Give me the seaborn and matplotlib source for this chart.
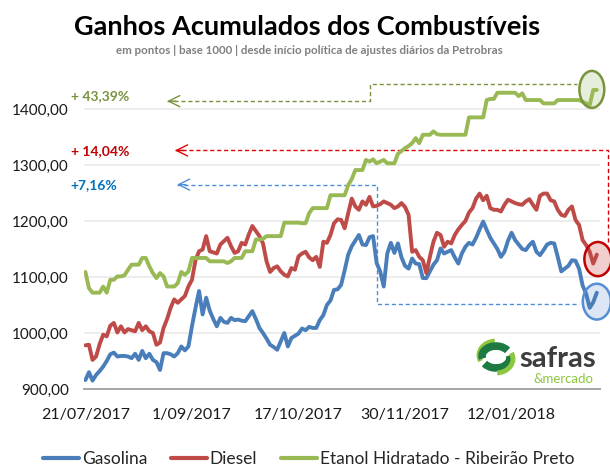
import numpy as np
import pandas as pd
import matplotlib
matplotlib.use("Agg")
import matplotlib.pyplot as plt
from matplotlib.patches import Ellipse, Arc
import seaborn as sns

# dados (pontos, base 1000), um valor por pregão desde 21/07/2017
gasolina = [
    916, 930, 915, 925, 932, 940, 950, 962, 965, 958,
    959, 959, 958, 955, 963, 952, 968, 955, 963, 952,
    948, 934, 964, 964, 962, 958, 964, 976, 969, 976,
    1012, 1045, 1075, 1033, 1063, 1040, 1025, 1012, 1027, 1020,
    1018, 1027, 1023, 1024, 1022, 1021, 1030, 1039, 1025, 1009,
    1000, 990, 979, 975, 970, 985, 1000, 976, 991, 995,
    999, 1008, 1005, 1011, 1009, 1009, 1023, 1032, 1050, 1058,
    1077, 1078, 1086, 1112, 1140, 1155, 1165, 1175, 1158, 1157,
    1171, 1173, 1125, 1110, 1083, 1142, 1161, 1143, 1160, 1135,
    1120, 1115, 1133, 1124, 1123, 1098, 1098, 1110, 1122, 1130,
    1151, 1142, 1145, 1148, 1135, 1124, 1142, 1154, 1161, 1158,
    1170, 1185, 1199, 1184, 1170, 1160, 1150, 1136, 1145, 1165,
    1179, 1166, 1158, 1150, 1148, 1157, 1163, 1145, 1139, 1148,
    1158, 1161, 1160, 1136, 1110, 1115, 1120, 1130, 1129, 1115,
    1085, 1070, 1045, 1055, 1072,
]
diesel = [
    978, 979, 952, 958, 980, 997, 994, 1013, 1018, 1001,
    1012, 1001, 1007, 1005, 1003, 1018, 1005, 1012, 1003, 1000,
    979, 983, 1009, 1025, 1045, 1060, 1054, 1060, 1066, 1083,
    1095, 1130, 1146, 1149, 1173, 1146, 1144, 1142, 1158, 1164,
    1170, 1155, 1143, 1146, 1161, 1158, 1176, 1191, 1182, 1173,
    1160, 1128, 1109, 1116, 1119, 1110, 1104, 1101, 1116, 1113,
    1137, 1142, 1145, 1135, 1130, 1136, 1118, 1163, 1161, 1175,
    1196, 1203, 1202, 1187, 1214, 1240, 1226, 1220, 1235, 1229,
    1243, 1226, 1227, 1230, 1235, 1232, 1229, 1223, 1226, 1232,
    1225, 1211, 1145, 1148, 1136, 1130, 1107, 1136, 1163, 1179,
    1175, 1154, 1163, 1160, 1175, 1185, 1193, 1200, 1215, 1223,
    1240, 1249, 1237, 1245, 1223, 1220, 1220, 1217, 1229, 1238,
    1235, 1232, 1230, 1229, 1235, 1239, 1229, 1220, 1245, 1249,
    1249, 1237, 1235, 1220, 1211, 1209, 1220, 1226, 1202, 1193,
    1166, 1157, 1145, 1124, 1140,
]
etanol = [
    1109, 1080, 1072, 1072, 1072, 1083, 1072, 1095, 1095, 1101,
    1101, 1103, 1113, 1122, 1122, 1122, 1134, 1134, 1119, 1107,
    1098, 1107, 1101, 1083, 1083, 1083, 1089, 1109, 1104, 1110,
    1134, 1134, 1134, 1134, 1134, 1128, 1128, 1128, 1128, 1128,
    1125, 1128, 1134, 1134, 1134, 1146, 1146, 1146, 1167, 1167,
    1168, 1173, 1173, 1173, 1173, 1173, 1197, 1197, 1197, 1197,
    1197, 1196, 1196, 1214, 1223, 1223, 1223, 1223, 1223, 1246,
    1246, 1246, 1246, 1246, 1264, 1275, 1291, 1291, 1291, 1309,
    1306, 1310, 1303, 1306, 1309, 1303, 1303, 1303, 1320, 1325,
    1330, 1334, 1339, 1348, 1339, 1354, 1354, 1354, 1360, 1355,
    1354, 1354, 1354, 1354, 1354, 1354, 1354, 1354, 1385, 1385,
    1385, 1385, 1385, 1416, 1418, 1418, 1429, 1429, 1429, 1429,
    1429, 1429, 1423, 1428, 1416, 1416, 1416, 1416, 1416, 1410,
    1410, 1410, 1410, 1416, 1416, 1416, 1416, 1416, 1416, 1416,
    1413, 1410, 1407, 1434, 1434,
]
serie_nomes = ["Gasolina", "Diesel", "Etanol Hidratado - Ribeirão Preto"]
tick_idx = [0, 30, 60, 90, 120]
tick_datas = ["21/07/2017", "1/09/2017", "17/10/2017", "30/11/2017", "12/01/2018"]
ganhos = ["+7,16%", "+ 14,04%", "+ 43,39%"]

cores = ["#4A7EBB", "#BE4B48", "#98B954"]
cores_txt = ["#0070C0", "#C00000", "#77933C"]

df = pd.concat([
    pd.DataFrame({"idx": np.arange(len(v)), "valor": v, "serie": nome})
    for nome, v in zip(serie_nomes, [gasolina, diesel, etanol])
])

sns.set_theme(style="white")
plt.rcParams["font.family"] = ["Lato", "DejaVu Sans"]

fig = plt.figure(figsize=(6.1, 4.71), dpi=100)
ax = fig.add_axes([84 / 610, 1 - 389 / 471, 516 / 610, 308 / 471])

sns.lineplot(data=df, x="idx", y="valor", hue="serie", hue_order=serie_nomes,
             palette=cores, linewidth=2.8, ax=ax, legend=True, zorder=3)

ax.set_xlim(-0.4, 144.9)
ax.set_ylim(900, 1450)
ax.set_yticks([900, 1000, 1100, 1200, 1300, 1400])
ax.set_yticklabels([f"{v:.2f}".replace(".", ",") for v in ax.get_yticks()])
ax.set_xticks(tick_idx)
ax.set_xticklabels(tick_datas)
ax.tick_params(axis="y", length=0, pad=11, labelsize=11, labelcolor="#1a1a1a")
ax.tick_params(axis="x", length=0, pad=14, labelsize=11.5, labelcolor="#1a1a1a")
ax.set_xlabel("")
ax.set_ylabel("")
ax.yaxis.grid(True, color="#ececec", linewidth=1.3)
ax.set_axisbelow(True)
for s in ["top", "right", "left"]:
    ax.spines[s].set_visible(False)
ax.spines["bottom"].set_color("#a6a6a6")
ax.spines["bottom"].set_linewidth(1.4)

# setas tracejadas e rótulos de ganho
dash = (0, (3, 2))
caminhos = [
    ([25.8, 82.1, 82.1, 139.0], [1265, 1265, 1052, 1052]),
    ([25.2, 147.2, 147.2], [1326, 1326, 1159]),
    ([23.0, 80.1, 80.1, 138.4], [1414, 1414, 1445, 1445]),
]
cores_tracejado = ["#4F8FDA", "#E00000", "#77933C"]
y_txt = [1264, 1325, 1423]
for (xs, ys), ct, cx, txt, yt in zip(caminhos, cores_tracejado, cores_txt, ganhos, y_txt):
    ax.plot(xs, ys, color=ct, linewidth=1.0, linestyle=dash, clip_on=False, zorder=2)
    ax.annotate("", xy=(xs[0], ys[0]), xytext=(xs[0] + 2.5, ys[0]),
                arrowprops=dict(arrowstyle="->", color=ct, lw=1.0,
                                mutation_scale=20, shrinkA=0, shrinkB=0),
                annotation_clip=False)
    ax.text(-4.1, yt, txt, color=cx, fontsize=10, fontweight="bold",
            ha="left", va="center")

# círculos no final das séries
circulos = [
    (144.0, 1056, 7.9, 64, "#DCE6F5", "#558ED5"),
    (144.3, 1132, 7.6, 61, "#F2CFCF", "#C00000"),
    (142.6, 1435, 7.0, 66, "#E6EEDB", "#77933C"),
]
for cx, cy, w, h, fc, ec in circulos:
    ax.add_patch(Ellipse((cx, cy), w, h, facecolor=fc, edgecolor="none",
                         zorder=2.5, clip_on=False))
    ax.add_patch(Ellipse((cx, cy), w, h, facecolor="none", edgecolor=ec,
                         linewidth=1.8, zorder=4, clip_on=False))

# legenda
handles, labels = ax.get_legend_handles_labels()
ax.get_legend().remove()
leg = fig.legend(handles, labels, loc="center", bbox_to_anchor=(308.5 / 610, 1 - 459 / 471),
                 ncol=3, frameon=False, fontsize=12.5, handlelength=2.1,
                 handletextpad=0.15, columnspacing=1.35, borderpad=0.1)
for ln in leg.get_lines():
    ln.set_linewidth(3)

# títulos
fig.text(307 / 610, 1 - 27 / 471, "Ganhos Acumulados dos Combustíveis",
         ha="center", va="center", fontsize=19.5, fontweight="bold", color="#000000")
fig.text(309 / 610, 1 - 51 / 471,
         "em pontos | base 1000 | desde início política de ajustes diários da Petrobras",
         ha="center", va="center", fontsize=8.3, fontweight="bold", color="#7f7f7f")

# logo safras & mercado
logo = fig.add_axes([476 / 610, 1 - 378 / 471, 40 / 610, 42 / 471])
logo.set_xlim(-1.15, 1.15)
logo.set_ylim(-1.15, 1.15)
logo.axis("off")
logo.add_patch(Arc((0, 0.1), 1.95, 1.55, theta1=95, theta2=200, color="#8DC63F", lw=3.5))
logo.add_patch(Arc((0, 0.05), 1.6, 1.1, theta1=25, theta2=190, color="#1D7A43", lw=5.5))
logo.add_patch(Arc((0, -0.05), 1.6, 1.1, theta1=205, theta2=370, color="#1D7A43", lw=5.5))
logo.add_patch(Arc((0, -0.1), 1.95, 1.55, theta1=275, theta2=380, color="#8DC63F", lw=3.5))
fig.text(519 / 610, 1 - 367 / 471, "safras", fontsize=21, fontweight="bold",
         color="#3d3d3d", ha="left", va="baseline")
fig.text(593 / 610, 1 - 383 / 471, "&mercado", fontsize=9.5,
         color="#8DC63F", ha="right", va="baseline")

fig.savefig("out.png", dpi=100)
